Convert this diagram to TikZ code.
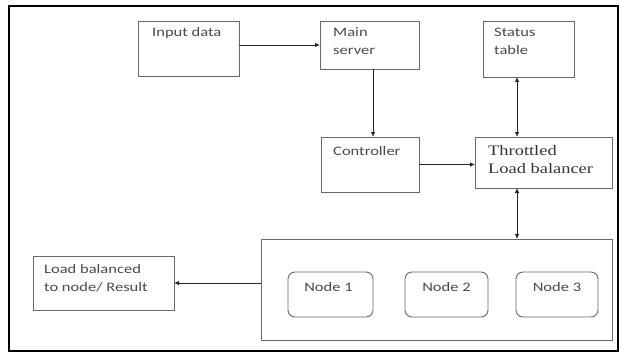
\documentclass[tikz,border=0pt]{standalone}
\usepackage{fontspec}
\setmainfont{Carlito}[FakeStretch=1.27]
\newfontfamily\lbserif{Liberation Serif}[FakeStretch=1.27]
\usetikzlibrary{arrows.meta,calc}
\definecolor{boxline}{HTML}{6A6A6A}
\definecolor{labeltext}{HTML}{4A4A4A}
\begin{document}
\begin{tikzpicture}[x=1pt,y=-1pt,
  box/.style={draw=boxline,line width=0.9pt,anchor=north west,inner sep=0pt,outer sep=0pt},
  roundbox/.style={box,rounded corners=7pt},
  txt/.style={anchor=base west,inner sep=0pt,text=labeltext,font=\fontsize{13}{19}\selectfont},
  sertxt/.style={anchor=base west,inner sep=0pt,text=black!80,font=\lbserif\fontsize{14.5}{18}\selectfont},
  arr/.style={draw=black!85,line width=0.8pt,-{Latex[length=5pt,width=4.5pt]}},
  darr/.style={draw=black!85,line width=0.8pt,{Latex[length=5pt,width=4.5pt]}-{Latex[length=5pt,width=4.5pt]}}]
\useasboundingbox (0,0) rectangle (619,353);
% outer frame
\draw[line width=2pt,black] (8.5,6) rectangle (617.5,350.5);

% boxes
\node[box,minimum width=101pt,minimum height=55pt] (input) at (138,21) {};
\node[box,minimum width=99pt,minimum height=48pt] (main) at (320,21) {};
\node[box,minimum width=91pt,minimum height=56pt] (status) at (483,21) {};
\node[box,minimum width=98pt,minimum height=55pt] (ctrl) at (321,137) {};
\node[box,minimum width=137pt,minimum height=51pt] (tlb) at (475,137) {};
\node[box,minimum width=351pt,minimum height=101pt] (cluster) at (261,239) {};
\node[box,minimum width=141pt,minimum height=54pt] (result) at (33,256) {};
\node[roundbox,minimum width=85pt,minimum height=45pt] (n1) at (288,272) {};
\node[roundbox,minimum width=83pt,minimum height=45pt] (n2) at (405,272) {};
\node[roundbox,minimum width=82pt,minimum height=45pt] (n3) at (516,272) {};

% labels
\node[txt] (tinput) at ($(input.north west)+(14,16)$) {Input data};
\node[txt] (tmain1) at ($(main.north west)+(13,16)$) {Main};
\node[txt] (tmain2) at ($(main.north west)+(13,34)$) {server};
\node[txt] (tstat1) at ($(status.north west)+(11,16)$) {Status};
\node[txt] (tstat2) at ($(status.north west)+(11,34)$) {table};
\node[txt] (tctrl) at ($(ctrl.north west)+(12,18)$) {Controller};
\node[sertxt] (ttlb1) at ($(tlb.north west)+(13,18)$) {Throttled};
\node[sertxt] (ttlb2) at ($(tlb.north west)+(13,36)$) {Load balancer};
\node[txt] (tres1) at ($(result.north west)+(11,17)$) {Load balanced};
\node[txt] (tres2) at ($(result.north west)+(11,35)$) {to node/ Result};
\node[txt,anchor=base] (tn1) at ($(n1.north)+(-2,19)$) {Node 1};
\node[txt,anchor=base] (tn2) at ($(n2.north)+(0,19)$) {Node 2};
\node[txt,anchor=base] (tn3) at ($(n3.north)+(0,19)$) {Node 3};

% connectors
\draw[arr] (input.east |- main.west) -- (main.west);
\draw[arr] ([xshift=3.5pt]main.south) -- ([xshift=3.5pt]main.south |- ctrl.north);
\draw[arr] (ctrl.east) -- (ctrl.east -| tlb.west);
\draw[darr] ([xshift=-11.5pt]status.south) -- ([xshift=-11.5pt]status.south |- tlb.north);
\draw[darr] ([xshift=-26.5pt]tlb.south) -- ([xshift=-26.5pt]tlb.south |- cluster.north);
\draw[arr] (cluster.west |- result.east) -- (result.east);
\end{tikzpicture}
\end{document}
